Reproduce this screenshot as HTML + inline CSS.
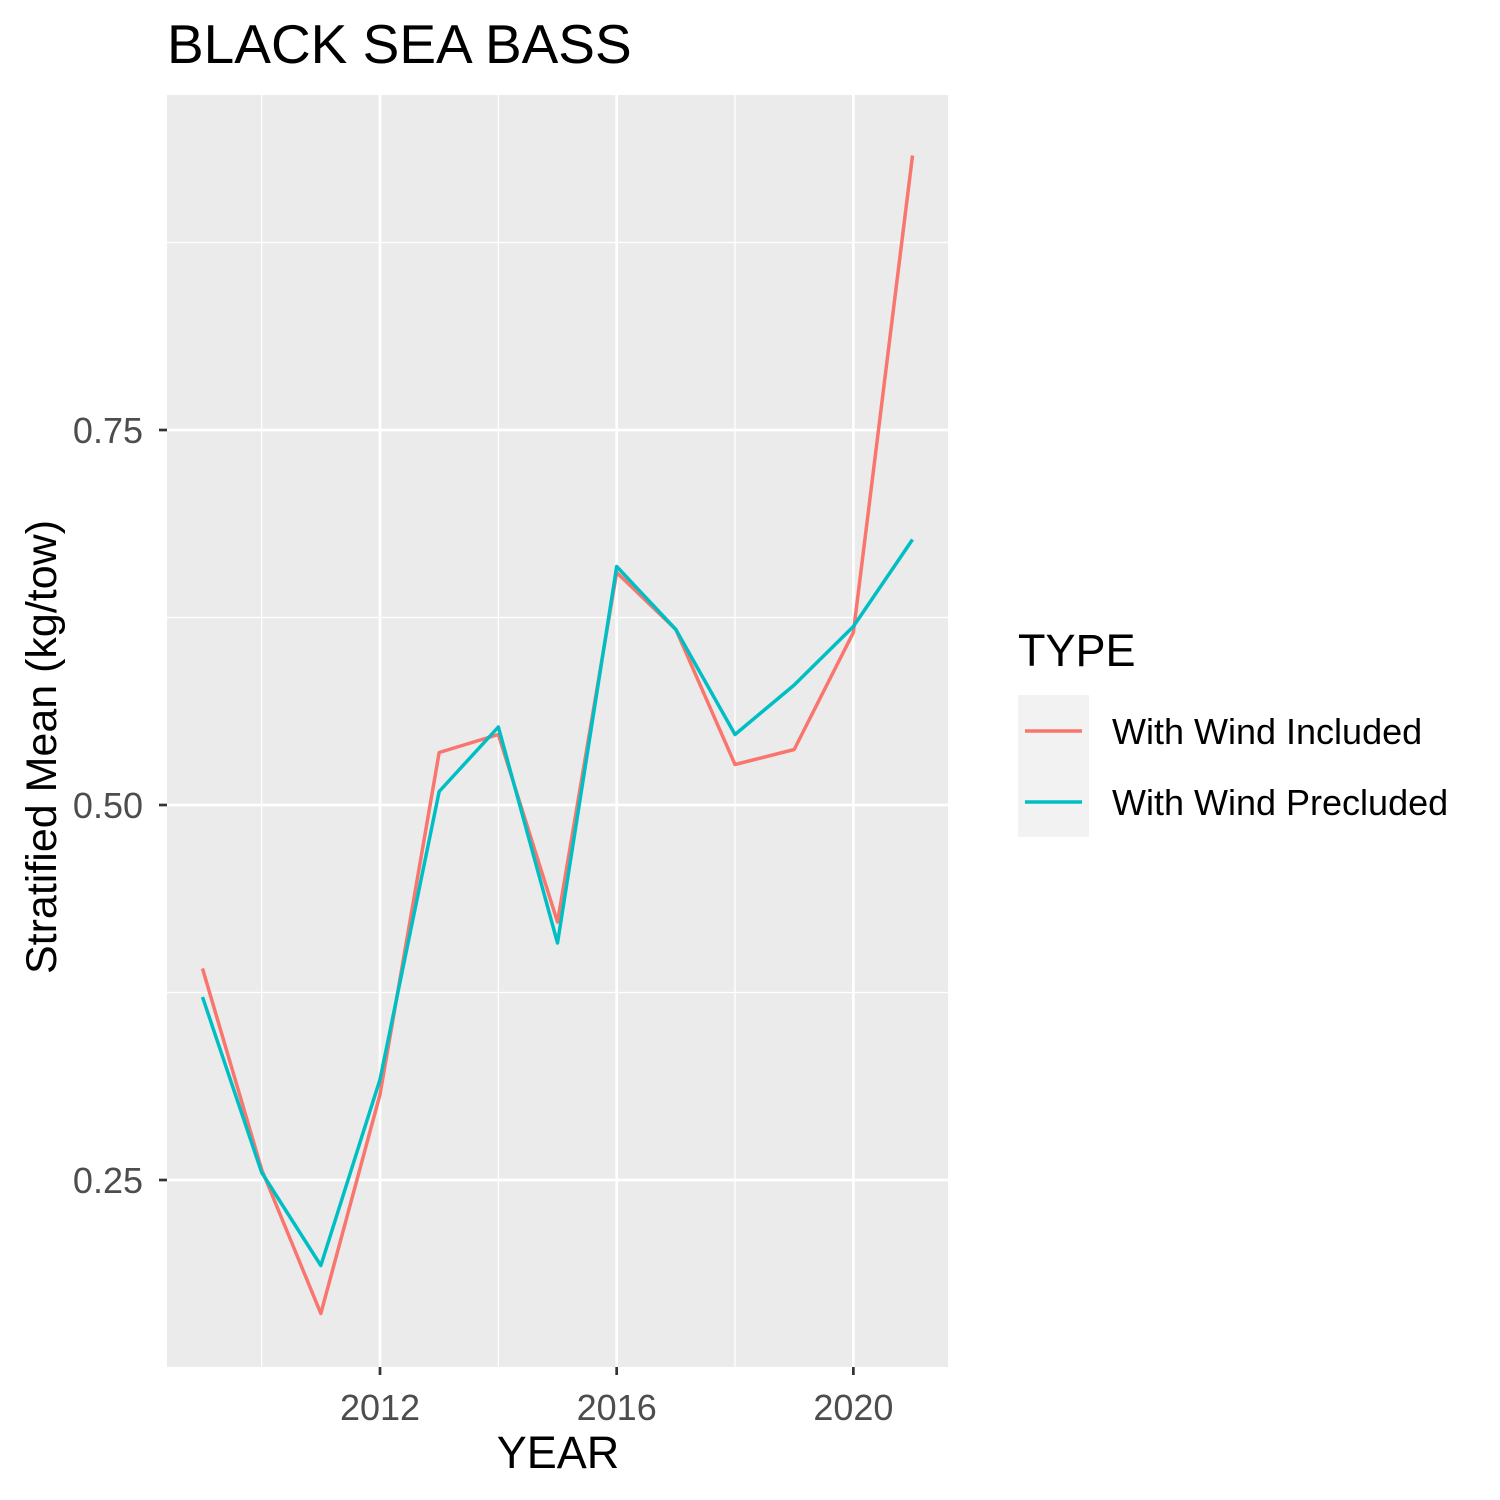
<!DOCTYPE html>
<html><head><meta charset="utf-8"><style>body{margin:0;background:#fff}svg{display:block;font-family:"Liberation Sans",Arial,sans-serif}</style></head>
<body>
<svg id="chart" width="1500" height="1500" viewBox="0 0 1500 1500">
<rect x="0" y="0" width="1500" height="1500" fill="#fff"/>
<text x="167" y="63" font-size="55" fill="#000">BLACK SEA BASS</text>
<rect x="167" y="95" width="781" height="1272" fill="#ebebeb"/>
<g id="grid"></g>
<g id="axes"></g>
<g id="series"></g>
<text x="558" y="1468" font-size="45" text-anchor="middle" fill="#000">YEAR</text>
<text transform="translate(56,747) rotate(-90)" font-size="43" text-anchor="middle" fill="#000">Stratified Mean (kg/tow)</text>
<g>
<text x="1018" y="666" font-size="45" fill="#000">TYPE</text>
<rect x="1018" y="695" width="71" height="142" fill="#f2f2f2"/>
<line x1="1025" x2="1082" y1="731" y2="731" stroke="#F8766D" stroke-width="3.5"/>
<line x1="1025" x2="1082" y1="802" y2="802" stroke="#00BFC4" stroke-width="3.5"/>
<text x="1112" y="744" font-size="36" fill="#000">With Wind Included</text>
<text x="1112" y="815" font-size="36" fill="#000">With Wind Precluded</text>
</g>
</svg>
<script>
const years=[2009,2010,2011,2012,2013,2014,2015,2016,2017,2018,2019,2020,2021];
const included=[0.391,0.257,0.161,0.307,0.535,0.547,0.422,0.655,0.617,0.527,0.537,0.615,0.933];
const precluded=[0.372,0.255,0.193,0.317,0.509,0.552,0.408,0.659,0.617,0.547,0.580,0.619,0.677];
const xTicks=[2012,2016,2020];
const xMinor=[2010,2014,2018];
const yTicks=[0.25,0.50,0.75];
const yTickLabels=["0.25","0.50","0.75"];
const yMinor=[0.125,0.375,0.625,0.875];

const NS="http://www.w3.org/2000/svg";
const X=v=>380+(v-2012)*59.17;
const Y=v=>805-(v-0.5)*1500;
function mk(parent,tag,attrs){const e=document.createElementNS(NS,tag);for(const k in attrs)e.setAttribute(k,attrs[k]);parent.appendChild(e);return e;}
const grid=document.getElementById('grid'),axes=document.getElementById('axes'),series=document.getElementById('series');
yMinor.forEach(v=>{const y=Y(v);if(y<95||y>1367)return;const l=mk(grid,'line',{x1:167,x2:948,y1:y,y2:y,stroke:'#fff','stroke-width':1.3});

});
xMinor.forEach(v=>{const x=X(v);const l=mk(grid,'line',{x1:x,x2:x,y1:95,y2:1367,stroke:'#fff','stroke-width':1.3});

});
yTicks.forEach((v,i)=>{const y=Y(v);const l=mk(grid,'line',{x1:167,x2:948,y1:y,y2:y,stroke:'#fff','stroke-width':2.7});


const t=mk(axes,'line',{x1:159,x2:167,y1:y,y2:y,stroke:'#333','stroke-width':2.7});


const tx=mk(axes,'text',{x:143,y:y+13,'font-size':36,'text-anchor':'end',fill:'#4d4d4d'});tx.textContent=yTickLabels[i];

});
xTicks.forEach(v=>{const x=X(v);const l=mk(grid,'line',{x1:x,x2:x,y1:95,y2:1367,stroke:'#fff','stroke-width':2.7});


const t=mk(axes,'line',{x1:x,x2:x,y1:1367,y2:1375,stroke:'#333','stroke-width':2.7});


const tx=mk(axes,'text',{x:x,y:1420,'font-size':36,'text-anchor':'middle',fill:'#4d4d4d'});tx.textContent=String(v);

});
function line(vals,color,name){const p=mk(series,'polyline',{points:vals.map((v,i)=>X(years[i])+','+Y(v)).join(' '),fill:'none',stroke:color,'stroke-width':3.5,'stroke-linejoin':'round'});

}
line(included,'#F8766D','series-with-wind-included');
line(precluded,'#00BFC4','series-with-wind-precluded');
</script>
</body></html>
